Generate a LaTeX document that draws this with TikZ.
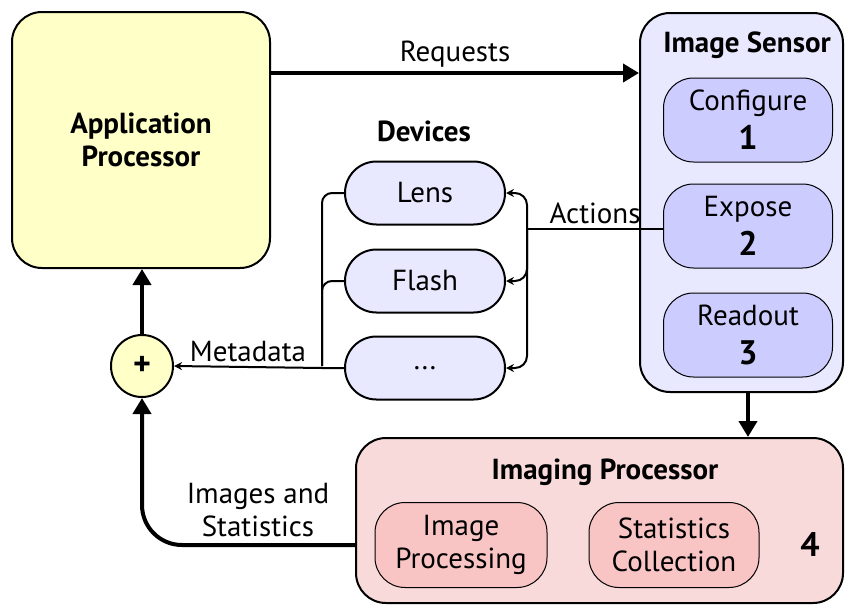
\documentclass[tikz,border=0pt]{standalone}
\usepackage{fontspec}
\setmainfont{PT Sans}
\usepackage{xcolor}
\usetikzlibrary{arrows.meta, positioning, calc}
\definecolor{appyellow}{HTML}{FFFFC8}
\definecolor{sensorlav}{HTML}{E8E8FF}
\definecolor{steplav}{HTML}{CCCCFF}
\definecolor{procpink}{HTML}{F9DADA}
\definecolor{steppink}{HTML}{F8C4C4}
\newcommand{\bodyfont}{\fontsize{14.5}{16.5}\selectfont}
\newcommand{\numfont}{\fontsize{17}{19}\selectfont\bfseries}
\tikzset{
  % Box styles
  bigbox/.style={rectangle, rounded corners=15pt, draw=black, line width=1pt, fill=#1},
  bigbox/.default={appyellow},
  stepbox/.style={rectangle, rounded corners=15pt, minimum width=84.5pt, minimum height=42pt, align=center, draw=black, line width=0.5pt, fill=#1, inner sep=1pt},
  stepbox/.default={steplav},
  devbox/.style={rectangle, rounded corners=15.7pt, minimum width=80pt, minimum height=31.5pt, draw=black, line width=1pt, fill=sensorlav},
  titletext/.style={font=\bodyfont\bfseries},
  lbl/.style={inner sep=2pt},
  % Connector styles
  thickarrow/.style={-{Triangle[length=8pt,width=9pt]}, line width=2pt},
  thinarrow/.style={-{Stealth[length=4pt,width=4pt]}, line width=1pt},
  thinline/.style={line width=1pt},
}

\begin{document}
\begin{tikzpicture}[x=0.5pt, y=-0.5pt, font=\bodyfont]
    \useasboundingbox (0,0) rectangle (845,605);

    % Application processor
    \node[bigbox, minimum width=129pt, minimum height=128pt, align=center, titletext] (app) at (141,140) {Application\\Processor};

    % Image sensor and its steps
    \node[bigbox=sensorlav, minimum width=101.5pt, minimum height=189.5pt] (sensor) at (741.5,202.5) {};
    \node[titletext] (sensortitle) at (747,45) {Image Sensor};
    \node[stepbox] (configure) at (748,120) {Configure\\[3pt]{\numfont 1}};
    \node[stepbox, below=10.5pt of configure] (expose) {Expose\\[3pt]{\numfont 2}};
    \node[stepbox, below=12pt of expose] (readout) {Readout\\[3pt]{\numfont 3}};

    % Devices
    \node[titletext] (devices) at (424,131) {Devices};
    \node[devbox] (lens) at (425,193) {Lens};
    \node[devbox, below=11.5pt of lens] (flash) {Flash};
    \node[devbox, below=11pt of flash] (dots) {...};

    % Imaging processor
    \node[bigbox=procpink, minimum width=243.5pt, minimum height=82.5pt] (imaging) at (599.5,520.5) {};
    \node[titletext] (imagingtitle) at (605,472) {Imaging Processor};
    \node[stepbox=steppink, minimum width=86pt, minimum height=42.5pt] (imgproc) at (461,545) {Image\\Processing};
    \node[stepbox=steppink, minimum width=85pt, minimum height=42.5pt, right=20.5pt of imgproc] (statcoll) {Statistics\\Collection};
    \node[font=\numfont] (four) at (810,545) {4};

    % Merge point
    \node[circle, draw=black, line width=1pt, fill=appyellow, minimum size=31pt, inner sep=0pt, font=\numfont] (plus) at (142,366) {+};

    % Junctions
    \coordinate (req) at (0,73);
    \coordinate (act) at (527,229);
    \coordinate (meta) at (322,366);

    % Arrows
    \draw[thickarrow] (app.east |- req) -- node[lbl, above] {Requests} (sensor.west |- req);
    \draw[thinline] (expose.west |- act) -- node[lbl, above] {Actions} (act);
    \draw[thinarrow, rounded corners=6pt] (act) |- (lens.east);
    \draw[thinarrow, rounded corners=6pt] (act) |- (flash.east);
    \draw[thinarrow, rounded corners=6pt] (act) |- (dots.east);
    \draw[thinline, rounded corners=5pt] (lens.west) -| (meta);
    \draw[thinline, rounded corners=5pt] (flash.west) -| (meta);
    \draw[thinarrow] (dots.west) -- (dots.west -| meta) -- node[lbl, above] {Metadata} (plus.east);
    \draw[thickarrow] (plus.north) -- (plus.north |- app.south);
    \draw[thickarrow] (readout.south |- sensor.south) -- (readout.south |- imaging.north);
    \draw[thickarrow, rounded corners=20pt] (imaging.west |- imgproc.west) -| (plus.south);
    \node[align=center] (imgstat) at (258,510) {Images and\\Statistics};
\end{tikzpicture}
\end{document}
